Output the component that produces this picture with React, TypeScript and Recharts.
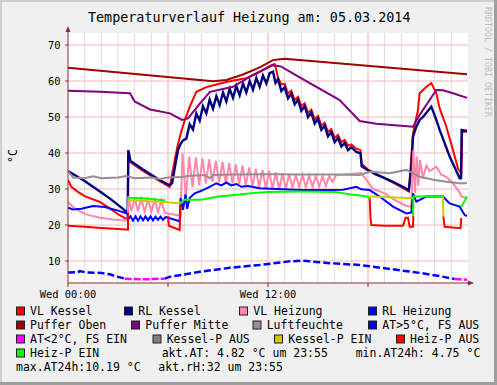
import React from 'react';
import { LineChart, Line, XAxis, YAxis, CartesianGrid } from 'recharts';

type P = [number, number];

// ---------- axes / grid values ----------
const yTicks = [10, 20, 30, 40, 50, 60, 70];
const yGridValues = [5, 10, 15, 20, 25, 30, 35, 40, 45, 50, 55, 60, 65, 70];
const xMinorHours = [1, 2, 3, 4, 5, 7, 8, 9, 10, 11, 13, 14, 15, 16, 17, 19, 20, 21, 22, 23];
const xMajorHours = [6, 12, 18];
const xTicks = [0, 6, 12, 18];
const xLabelHours = [0, 12];
const xLabels = ['Wed 00:00', 'Wed 12:00'];

// ---------- series (t = hours since 00:00, v = °C / %) ----------
const vlKessel: P[][] = [[
  [0, 32.5], [0.2, 30.6], [0.6, 29.2], [1, 28], [1.92, 26.4], [2.5, 24.6], [3, 23], [3.6, 21.4],
  [3.62, 39.5], [3.75, 37.4], [4.5, 35], [5.5, 32.2], [6.1, 30.6], [6.2, 33], [6.4, 38], [6.6, 42.5],
  [6.8, 46], [7.0, 49], [7.3, 52.8], [7.7, 57], [8.3, 58.3], [8.9, 59], [9.5, 59.7], [10.1, 60.3],
  [10.7, 60.8], [11.3, 62], [11.9, 63.6], [12.2, 64.4], [12.4, 64.7], [12.5, 63], [12.6, 61],
  [12.8, 59], [13.0, 59.2], [13.2, 56.5], [13.4, 57.3], [13.6, 54.7], [13.8, 55.6], [14.0, 53],
  [14.2, 53.8], [14.4, 51.2], [14.6, 52], [14.8, 49.4], [15.0, 50.3], [15.2, 47.6], [15.4, 48.4],
  [15.6, 45.8], [15.8, 46.6], [16.0, 44.2], [16.2, 45], [16.4, 43], [16.6, 43.6], [16.8, 42],
  [17.0, 42.4], [17.3, 41.2], [17.55, 40.8], [17.62, 37], [18, 35.4], [19, 33], [20, 30.5],
  [20.45, 29.3], [20.7, 45.5], [21.0, 52], [21.1, 56.6], [21.5, 58.4], [21.8, 59.4], [22.1, 56.6],
  [22.3, 52.4], [22.7, 47.3], [23.1, 40.8], [23.4, 35.7], [23.6, 34.4], [23.65, 45.9], [23.94, 45.9],
]];

const rlKessel: P[][] = [[
  [0, 35], [0.5, 33.6], [1, 32.2], [1.5, 30.6], [2, 29], [2.5, 27.4], [3, 25.6], [3.3, 24.5], [3.58, 23.3],
  [3.62, 40.8], [3.75, 37.8], [4.5, 35.4], [5.5, 32.5], [6.1, 31], [6.25, 31.6], [6.45, 37], [6.6, 40.8],
  [6.75, 42.5], [6.9, 43.5], [7.1, 44], [7.3, 48], [7.5, 46.5], [7.7, 51], [7.9, 49], [8.1, 53],
  [8.3, 51], [8.5, 54.8], [8.7, 52.3], [8.9, 55.8], [9.1, 53.3], [9.3, 56.8], [9.5, 54.3], [9.7, 57.8],
  [9.9, 55.3], [10.1, 58.6], [10.3, 56], [10.5, 59.3], [10.7, 56.8], [10.9, 60], [11.1, 57.6],
  [11.3, 60.8], [11.5, 58.4], [11.7, 61.5], [11.9, 59.3], [12.1, 62.2], [12.3, 62.6], [12.45, 59.5],
  [12.6, 60.5], [12.8, 57.2], [13.0, 58.3], [13.2, 55.2], [13.4, 56.5], [13.6, 53.5], [13.8, 54.8],
  [14.0, 51.7], [14.2, 53], [14.4, 50], [14.6, 51.3], [14.8, 48.2], [15.0, 49.5], [15.2, 46.4],
  [15.4, 47.6], [15.6, 44.6], [15.8, 45.8], [16.0, 43], [16.2, 44.2], [16.4, 41.8], [16.6, 42.8],
  [16.8, 40.8], [17.0, 41.6], [17.3, 40.3], [17.55, 39.9], [17.62, 36.3], [18, 35.2], [18.5, 34],
  [19, 33], [19.5, 32], [20, 30.8], [20.45, 29.7], [20.6, 36], [20.7, 44.5], [20.9, 47.3],
  [21.1, 49.2], [21.3, 50], [21.8, 52.9], [22.1, 49.2], [22.3, 46.4], [22.9, 39], [23.5, 33],
  [23.58, 33], [23.62, 46.4], [23.94, 46.1],
]];

const vlHeizung: P[][] = [[
  [0, 26.4], [0.3, 25], [0.7, 23.8], [1.2, 22.8], [1.92, 22], [2.7, 21.5], [3.58, 21.2],
  [3.62, 28], [3.8, 23.8], [4.0, 27.5], [4.2, 23.8], [4.4, 27.3], [4.6, 23.7], [4.8, 27.1],
  [5.0, 23.7], [5.2, 27], [5.4, 23.6], [5.6, 26.8], [5.8, 23.5], [6.0, 23.2], [6.5, 22.8], [6.75, 22.5],
  [6.8, 30], [6.87, 39.9], [7.07, 27.5], [7.27, 39], [7.47, 30.5], [7.67, 38.8], [7.87, 31],
  [8.07, 38.5], [8.27, 31.5], [8.47, 38.2], [8.67, 32], [8.87, 37.8], [9.07, 31.8], [9.27, 37.5],
  [9.47, 31.5], [9.67, 37.2], [9.87, 31.5], [10.07, 36.8], [10.27, 31.3], [10.47, 36.5], [10.67, 31],
  [10.87, 36], [11.07, 30.8], [11.27, 35.6], [11.47, 30.5], [11.67, 35.2], [11.87, 30.2], [12.07, 35],
  [12.27, 30], [12.47, 34.7], [12.67, 29.8], [12.87, 34.4], [13.07, 30], [13.27, 34.2], [13.47, 30.3],
  [13.67, 34], [13.87, 30.5], [14.07, 33.9], [14.27, 30.5], [14.47, 33.8], [14.67, 30.6], [14.87, 33.7],
  [15.07, 30.6], [15.27, 33.6], [15.47, 30.8], [15.67, 33.6], [15.87, 32], [16.1, 33.9], [17, 34.2],
  [17.6, 34.4], [18.3, 30], [19, 28.8], [19.6, 27], [20.2, 25.5], [20.6, 25], [20.72, 40.8],
  [20.82, 29], [20.92, 39], [21.02, 31], [21.12, 38], [21.3, 33], [21.5, 36.5], [21.7, 35],
  [22.1, 36.2], [22.4, 34], [22.7, 33.4], [23.1, 31.6], [23.5, 29], [23.6, 27.9], [23.94, 27.5],
]];

const rlHeizung: P[][] = [[
  [0, 24.8], [0.3, 24.3], [0.8, 24.5], [1.5, 25.3], [2.2, 25], [3, 24], [3.55, 23.2], [3.6, 21.5],
  [3.75, 22.4], [3.9, 21.2], [4.05, 22.4], [4.2, 21.2], [4.35, 22.4], [4.5, 21.3], [4.65, 22.4],
  [4.8, 21.3], [4.95, 22.4], [5.1, 21.3], [5.25, 22.3], [5.4, 21.4], [5.55, 22.3], [5.7, 21.4],
  [5.85, 22.2], [6.0, 22], [6.3, 21.6], [6.6, 21.2], [6.7, 20.9], [6.75, 27.5], [6.9, 24.2],
  [7.05, 28.5], [7.15, 24.5], [7.3, 27.5], [7.6, 28.8], [8.0, 29.5], [8.5, 30.6], [8.9, 31.6],
  [9.2, 31], [9.5, 31.8], [9.8, 31], [10.1, 31.4], [10.4, 30.6], [10.8, 30.8], [11.5, 30.2],
  [12.5, 30], [14, 29.7], [15.7, 29.7], [16.5, 29.8], [17.3, 30.6], [17.6, 29.9], [18.1, 29.7],
  [18.7, 27.9], [19.5, 25.1], [20.3, 23.2], [20.6, 23.5], [20.7, 28.8], [20.9, 26.5], [21.5, 27.9],
  [22.5, 27.9], [22.9, 26], [23.5, 25.1], [23.8, 22.8], [23.94, 22.5],
]];

const pufferOben: P[][] = [[
  [0, 63.7], [8.7, 59.9], [9.5, 60.3], [10.5, 61.8], [11.5, 63.8], [12.3, 65.8], [13, 66.2], [23.94, 61.9],
]];

const pufferMitte: P[][] = [[
  [0, 57.3], [1.92, 57.0], [3.72, 56.6], [4.0, 54.3], [4.92, 52.1], [6.12, 51.0], [6.84, 49.2],
  [7.2, 49.6], [7.92, 53.8], [8.52, 57.0], [9.9, 58.4], [11.1, 61.7], [12.3, 64.4], [12.8, 64],
  [13.9, 61], [16.3, 54.7], [17.5, 48.9], [18.5, 48.1], [20.7, 47.3], [21.1, 50.6], [22.1, 57.5],
  [22.5, 57.4], [23.1, 56.6], [23.94, 55.3],
]];

const luftfeuchte: P[][] = [[
  [0, 35], [0.3, 33.2], [1, 33], [1.5, 33.5], [2, 33], [3, 33.2], [3.5, 33.6], [4, 33], [5, 33.2],
  [5.5, 32.8], [6, 33.2], [6.8, 33.3], [7.2, 33.6], [8.2, 33.9], [8.5, 33], [8.7, 33.9], [10, 34],
  [12, 34.1], [14, 34], [16, 34], [17.5, 33.9], [18.1, 34.8], [19.3, 34.4], [20.3, 35.3], [20.7, 34.4],
  [21.1, 33.4], [22, 32.5], [22.7, 32], [23.5, 31.6], [23.94, 31.6],
]];

const atWarm: P[][] = [
  [[0, 6.8], [0.6, 6.9], [0.7, 7.2], [1.1, 6.8], [2, 6.7], [2.5, 6.3], [3, 5.6], [3.4, 5.1]],
  [[5.8, 5.1], [6.1, 5.6], [7.9, 7], [9.7, 8.1], [11.5, 8.9], [13.3, 9.9], [14, 10.1], [14.5, 9.9],
   [15.7, 9.4], [17.5, 8.9], [19.3, 7.8], [21.1, 6.7], [22.3, 5.8], [23.2, 5.0]],
];

const atCold: P[][] = [
  [[3.4, 5.1], [4.5, 4.9], [5.8, 5.1]],
  [[23.2, 5.0], [23.94, 4.8]],
];

const kesselPEin: P[][] = [
  [[3.6, 26.9], [5.8, 26.4], [6.0, 26.3], [6.8, 26.0]],
  [[18.05, 27.9], [19, 27.8], [20.7, 27.4]],
  [[22.5, 27.9], [22.52, 22.3]],
];

const heizPAus: P[][] = [
  [[0, 19.8], [1, 19.5], [2, 19.2], [3, 18.9], [3.6, 18.7], [3.61, 23.4]],
  [[6.0, 22.5], [6.05, 19.8], [6.7, 18.6], [6.75, 25.5]],
  [[18.1, 27.6], [18.15, 21.9], [18.2, 20], [19, 19.8], [20.1, 19.8], [20.25, 22], [20.4, 22],
   [20.5, 19.5], [20.7, 19.5], [20.72, 22.6]],
  [[22.52, 22.3], [22.6, 19.5], [23.55, 19.1], [23.6, 22]],
];

const heizPEin: P[][] = [
  [[3.62, 27.6], [4.5, 27.4], [5.5, 27], [5.85, 26.8]],
  [[6.75, 26.2], [7, 27], [8, 27], [9, 27.9], [10, 28.3], [11, 28.8], [12, 29.2], [14, 29.3],
   [16, 29.2], [17, 28.5], [18, 27.9], [18.1, 27.1]],
  [[20.7, 22.6], [20.72, 27.9], [22.5, 27.9]],
  [[23.6, 25], [23.94, 27.9]],
];

// ---------- legend ----------
const legendLabels = [
  'VL Kessel', 'RL Kessel', 'VL Heizung', 'RL Heizung',
  'Puffer Oben', 'Puffer Mitte', 'Luftfeuchte', 'AT>5°C, FS AUS',
  'AT<2°C, FS EIN', 'Kessel-P AUS', 'Kessel-P EIN', 'Heiz-P AUS',
  'Heiz-P EIN',
];
const legendColors = [
  '#FF0000', '#000080', '#FF88AA', '#0000FF',
  '#A00000', '#800080', '#978C97', '#0000FF',
  '#FF00FF', '#808080', '#CCCC00', '#FF0000',
  '#00FF00',
];
const infoTexts = [
  'akt.AT: 4.82 °C um 23:55', 'min.AT24h: 4.75 °C',
  'max.AT24h:10.19 °C', 'akt.rH:32 um 23:55',
];

// layout for legend (square x, text x, baseline y)
const legendLayout: [number, number, number][] = [
  [16.5, 30, 315], [124.5, 138.3, 315], [239.5, 253.3, 315], [368.5, 382.3, 315],
  [16.5, 30, 329], [131.5, 145.3, 329], [253, 266.7, 329], [368.5, 382.3, 329],
  [16.5, 30, 343], [153, 166.7, 343], [274.5, 288.3, 343], [396.5, 410, 343],
  [16.5, 30, 357],
];
const infoLayout: [number, number][] = [[161.7, 357], [355.7, 357], [16, 371], [158.3, 371]];

const toRows = (segs: P[][]) => {
  const rows: { t: number; v: number | null }[] = [];
  segs.forEach((seg, i) => {
    if (i > 0) rows.push({ t: seg[0][0], v: null });
    seg.forEach(([t, v]) => rows.push({ t, v }));
  });
  return rows;
};

const mono = 'DejaVu Sans Mono';
const axisColor = '#8A2E2E';

const lines = [
  { name: 'VL Kessel', segs: vlKessel, color: '#FF0000', w: 2 },
  { name: 'RL Kessel', segs: rlKessel, color: '#000080', w: 2.4 },
  { name: 'VL Heizung', segs: vlHeizung, color: '#FF88AA', w: 2 },
  { name: 'RL Heizung', segs: rlHeizung, color: '#0000FF', w: 2 },
  { name: 'Puffer Oben', segs: pufferOben, color: '#A00000', w: 2 },
  { name: 'Puffer Mitte', segs: pufferMitte, color: '#800080', w: 2 },
  { name: 'Luftfeuchte', segs: luftfeuchte, color: '#978C97', w: 2 },
  { name: 'AT>5', segs: atWarm, color: '#0000FF', w: 2.5, dash: '7 3' },
  { name: 'AT<2', segs: atCold, color: '#FF00FF', w: 2.5, dash: '7 2' },
  { name: 'Kessel-P EIN', segs: kesselPEin, color: '#CCCC00', w: 2 },
  { name: 'Heiz-P AUS', segs: heizPAus, color: '#FF0000', w: 2 },
  { name: 'Heiz-P EIN', segs: heizPEin, color: '#00FF00', w: 2 },
];

export default function App() {
  return (
    <div style={{ position: 'fixed', left: 0, top: 0, width: 497, height: 385, background: '#F0F0F0' }}>
      <LineChart width={497} height={385} margin={{ top: 33, right: 29, left: 0, bottom: 82 }}>
        <CartesianGrid fill="#FFFFFF" stroke="#DCDCDC" horizontal={false} verticalValues={xMinorHours} />
        <CartesianGrid stroke="#F4B0B0" horizontal={false} verticalValues={xMajorHours} />
        <CartesianGrid stroke="#F4B8B8" vertical={false} horizontalValues={yGridValues} />
        <XAxis
          dataKey="t"
          type="number"
          domain={[0, 24]}
          ticks={xTicks}
          allowDataOverflow
          height={20}
          tickSize={4}
          tickMargin={3.5}
          stroke={axisColor}
          tickLine={{ stroke: axisColor }}
          tick={{ fontSize: 10.4, fill: '#000', fontFamily: mono }}
          tickFormatter={(v: number) => {
            const i = xLabelHours.indexOf(v);
            return i >= 0 ? xLabels[i] : '';
          }}
        />
        <YAxis
          type="number"
          domain={[3.89, 73.33]}
          ticks={yTicks}
          allowDataOverflow
          width={68}
          tickSize={3}
          tickMargin={4.5}
          stroke={axisColor}
          tickLine={{ stroke: axisColor }}
          tick={{ fontSize: 10.4, fill: '#000', fontFamily: mono }}
        />
        {lines.map((l) => (
          <Line
            key={l.name}
            data={toRows(l.segs)}
            dataKey="v"
            type="linear"
            stroke={l.color}
            strokeWidth={l.w}
            strokeDasharray={l.dash}
            dot={false}
            activeDot={false}
            connectNulls={false}
            isAnimationActive={false}
          />
        ))}
      </LineChart>
      <svg width={497} height={385} style={{ position: 'absolute', left: 0, top: 0, pointerEvents: 'none' }}>
        <rect x={0} y={0} width={497} height={2} fill="#CFCFCF" />
        <rect x={0} y={0} width={2} height={385} fill="#CFCFCF" />
        <rect x={494} y={0} width={3} height={385} fill="#9E9E9E" />
        <rect x={0} y={382} width={497} height={3} fill="#9E9E9E" />
        <text x={88} y={21.5} fontFamily={mono} fontSize={13.4} fill="#000">
          Temperaturverlauf Heizung am: 05.03.2014
        </text>
        <text transform="translate(17,156) rotate(-90)" textAnchor="middle" fontFamily={mono} fontSize={11.5} fill="#000">
          °C
        </text>
        <text transform="translate(484.5,7) rotate(90)" fontFamily={mono} fontSize={8.3} fill="#BDBDBD">
          RRDTOOL / TOBI OETIKER
        </text>
        <line x1={68} y1={28} x2={68} y2={33} stroke={axisColor} strokeWidth={1} />
        <polygon points="68,26 65.5,32 70.5,32" fill={axisColor} />
        <line x1={467} y1={283} x2={472} y2={283} stroke={axisColor} strokeWidth={1} />
        <polygon points="474,283 468,280.5 468,285.5" fill={axisColor} />
        {legendLabels.map((lab, i) => {
          const [sx, tx, by] = legendLayout[i];
          return (
            <g key={lab}>
              <rect x={sx} y={by - 8} width={8} height={8} fill={legendColors[i]} stroke="#222" strokeWidth={1} />
              <text x={tx} y={by} fontFamily={mono} fontSize={11.5} fill="#000" style={{ whiteSpace: 'pre' }}>
                {lab}
              </text>
            </g>
          );
        })}
        {infoTexts.map((t, i) => (
          <text key={t} x={infoLayout[i][0]} y={infoLayout[i][1]} fontFamily={mono} fontSize={11.5} fill="#000" style={{ whiteSpace: 'pre' }}>
            {t}
          </text>
        ))}
      </svg>
    </div>
  );
}
